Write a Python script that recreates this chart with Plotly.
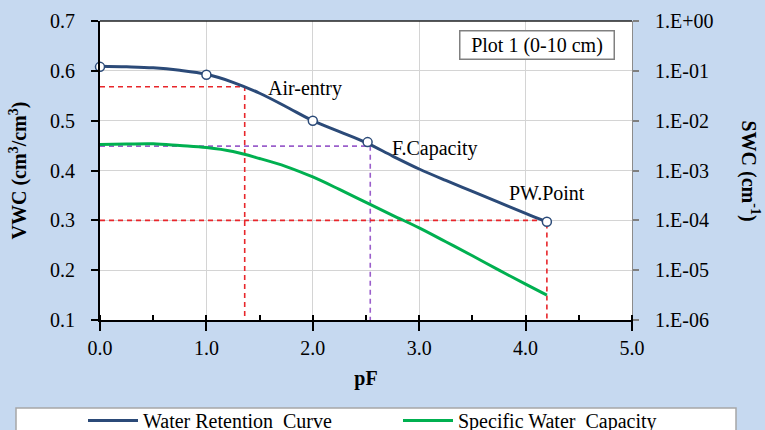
import plotly.graph_objects as go

# ---- data ----
pf_curve = [0, 0.25, 0.5, 0.75, 1.0, 1.25, 1.5, 1.75, 2.0, 2.25, 2.5, 2.75, 3.0, 3.25, 3.5, 3.75, 4.0, 4.2]
vwc_curve = [0.609, 0.608, 0.606, 0.601, 0.593, 0.577, 0.555, 0.528, 0.500, 0.478, 0.456, 0.429,
             0.403, 0.380, 0.358, 0.336, 0.314, 0.297]

pf_obs = [0.0, 1.0, 2.0, 2.515, 4.2]
vwc_obs = [0.608, 0.592, 0.500, 0.457, 0.297]

pf_swc = [0, 0.25, 0.5, 0.75, 1.0, 1.25, 1.5, 1.75, 2.0, 2.25, 2.5, 2.75, 3.0, 3.25, 3.5, 3.75, 4.0, 4.2]
swc = [3.31e-3, 3.39e-3, 3.43e-3, 3.16e-3, 2.88e-3, 2.40e-3, 1.74e-3, 1.20e-3, 7.41e-4, 4.17e-4,
       2.29e-4, 1.26e-4, 7.08e-5, 3.72e-5, 1.95e-5, 1.0e-5, 5.25e-6, 3.16e-6]

# reference points (pF, VWC)
air_entry = (1.36, 0.568)
field_cap = (2.54, 0.449)
pw_point = (4.2, 0.300)

x_ticks = [0, 1, 2, 3, 4, 5]
swc_tickvals = [1e-6, 1e-5, 1e-4, 1e-3, 1e-2, 1e-1, 1]
swc_ticktext = ["1.E-06", "1.E-05", "1.E-04", "1.E-03", "1.E-02", "1.E-01", "1.E+00"]

FONT = "Liberation Serif"
NAVY = "#2B4A78"
GREEN = "#00B050"
RED = "#E8262B"
PURPLE = "#9B5FCB"
BG = "#C6D9F0"
FS = 20

# plot-area geometry in pixels (for paper-coordinate placement)
L, R, T, B = 100, 632, 21, 320
PW, PH = R - L, B - T

def px(xp):
    return (xp - L) / PW

def py(yp):
    return (B - yp) / PH

fig = go.Figure()

def guide(pt, color):
    x0, y0 = pt
    fig.add_trace(go.Scatter(x=[0, x0, x0], y=[y0, y0, 0.1], mode="lines",
                             line=dict(color=color, width=1.6, dash="5px,4px"),
                             showlegend=False, hoverinfo="skip"))

guide(air_entry, RED)
guide(field_cap, PURPLE)
guide(pw_point, RED)

fig.add_trace(go.Scatter(x=pf_curve, y=vwc_curve, mode="lines", line=dict(color=NAVY, width=3, shape="spline"),
                         name="Water Retention  Curve"))
fig.add_trace(go.Scatter(x=pf_swc, y=swc, mode="lines", line=dict(color=GREEN, width=3, shape="spline"),
                         name="Specific Water  Capacity", yaxis="y2"))
fig.add_trace(go.Scatter(x=pf_obs, y=vwc_obs, mode="markers",
                         marker=dict(symbol="circle", size=9, color="white", line=dict(color=NAVY, width=1.5)),
                         showlegend=False, cliponaxis=False))

fig.update_layout(
    width=765, height=430,
    margin=dict(l=L, r=765 - R, t=T, b=430 - B, autoexpand=False),
    paper_bgcolor=BG, plot_bgcolor="white",
    font=dict(family=FONT, size=FS, color="black"),
    xaxis=dict(range=[0, 5], tickvals=x_ticks, tickformat=".1f", showgrid=True, gridcolor="#D4D4D4", gridwidth=1.3,
               ticks="outside", ticklen=9, tickwidth=2, tickcolor="black",
               minor=dict(ticks="inside", ticklen=5, tickwidth=2, tickcolor="black", dtick=0.5, showgrid=False),
               showline=True, linecolor="black", linewidth=2, zeroline=False, automargin=False,
               title=dict(text="<b>pF</b>", font=dict(size=FS), standoff=13)),
    yaxis=dict(range=[0.1, 0.7], dtick=0.1, tickformat=".1f", showgrid=True, gridcolor="#D4D4D4", gridwidth=1.3,
               ticks="outside", ticklen=7, tickwidth=2, tickcolor="black", ticklabelstandoff=12,
               showline=True, linecolor="black", linewidth=2, zeroline=False, automargin=False,
               title=dict(text="<b>VWC (cm<sup>3</sup>/cm<sup>3</sup>)</b>", font=dict(size=FS), standoff=18)),
    yaxis2=dict(type="log", range=[-6, 0], overlaying="y", side="right", showgrid=False,
                tickvals=swc_tickvals, ticktext=swc_ticktext, automargin=False,
                ticks="outside", ticklen=6, tickwidth=1.5, tickcolor="#7F7F7F", ticklabelstandoff=12,
                showline=True, linecolor="#8C8C8C", linewidth=1, zeroline=False),
    legend=dict(orientation="h", x=px(83), y=py(401), xanchor="left", yanchor="top",
                bgcolor="rgba(0,0,0,0)", entrywidth=250, itemwidth=50, font=dict(size=FS),
                tracegroupgap=0),
    showlegend=True,
)

# legend frame
fig.add_shape(type="rect", xref="paper", yref="paper", x0=px(16), x1=px(736), y0=py(445), y1=py(408),
              line=dict(color="#A6A6A6", width=1.5), fillcolor="white", layer="below")
# top border of plot area
fig.add_shape(type="line", xref="paper", yref="paper", x0=0, x1=1, y0=1, y1=1,
              line=dict(color="#222222", width=1.5))

fig.add_annotation(text="Air-entry", x=1.922, y=0.565, xref="x", yref="y", showarrow=False)
fig.add_annotation(text="F.Capacity", x=3.149, y=0.445, xref="x", yref="y", showarrow=False)
fig.add_annotation(text="PW.Point", x=4.20, y=0.355, xref="x", yref="y", showarrow=False)
fig.add_annotation(text="Plot 1 (0-10 cm)", x=px(536.5), y=py(45.5), xref="paper", yref="paper", showarrow=False,
                   xanchor="center", yanchor="middle",
                   width=153, height=27, borderpad=0, bordercolor="#808080", borderwidth=1.5,
                   bgcolor="white")
fig.add_annotation(text="<b>SWC (cm<sup>-1</sup>)</b>", x=px(750), y=py(170.5), xref="paper", yref="paper",
                   xanchor="center", yanchor="middle", showarrow=False, textangle=90)

fig.write_html("out.html")
